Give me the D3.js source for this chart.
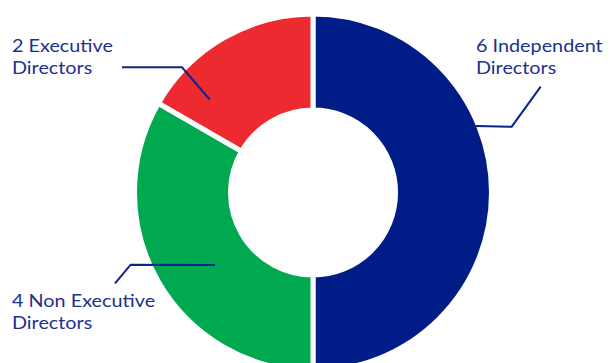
<!DOCTYPE html>
<html>
<head>
<meta charset="utf-8">
<script src="https://cdn.jsdelivr.net/npm/d3@7"></script>
<style>
  html, body { margin: 0; padding: 0; background: #ffffff; }
  svg { display: block; }
  .lbl { font-family: Lato, sans-serif; font-size: 18px; fill: #1b3190; }
</style>
</head>
<body>
<svg id="chart" width="610" height="363"></svg>
<script>
// Board composition
const categories = ["Independent Directors", "Non Executive Directors", "Executive Directors"];
const counts = [6, 4, 2];
const labelLines = [
  ["6 Independent", "Directors"],
  ["4 Non Executive", "Directors"],
  ["2 Executive", "Directors"]
];
const colors = ["#001c87", "#00a94f", "#ec2a30"];

const W = 610, H = 363;
const cx = 313, cy = 192.5;
const gap = 5;
const rOuter = 176 + gap / 2, rInner = 85 - gap / 2;
const lineStep = 22;
const textStretch = 1.1;   // widen the label glyphs a little

const svg = d3.select("#chart");

const pie = d3.pie().sort(null).value(d => d.count);
const arc = d3.arc().innerRadius(rInner).outerRadius(rOuter);

const data = categories.map((c, i) => ({ name: c, count: counts[i], color: colors[i], lines: labelLines[i] }));
const arcs = pie(data);

const g = svg.append("g").attr("transform", `translate(${cx},${cy})`);
g.selectAll("path.slice")
  .data(arcs)
  .join("path")
  .attr("class", "slice")
  .attr("d", arc)
  .attr("fill", d => d.data.color)
  .attr("stroke", "#ffffff")
  .attr("stroke-width", gap)
  .attr("stroke-linejoin", "miter");

// Leader-line layout per slice: anchor (angle in degrees, radius), elbow and end points, text block
const callouts = [
  { anchor: [67.8, 176], elbow: [511.7, 126.7], end: [540.7, 86.7], text: [476, 52] },
  { anchor: [233.5, 122], elbow: [130.7, 264.7], end: [115, 283.3], text: [12, 307] },
  { anchor: [312, 139], elbow: [182, 67.3], end: [122, 67.3], text: [12, 52] }
];

const lineGen = d3.line();
arcs.forEach((a, i) => {
  const c = callouts[i];
  const p = d3.pointRadial(c.anchor[0] * Math.PI / 180, c.anchor[1]);
  const start = [cx + p[0], cy + p[1]];
  svg.append("path")
    .attr("d", lineGen([start, c.elbow, c.end]))
    .attr("fill", "none")
    .attr("stroke", "#0b2487")
    .attr("stroke-width", 2);

  // one text element per line
  a.data.lines.forEach((ln, j) => {
    const t = svg.append("text").attr("class", "lbl")
      .attr("x", c.text[0])
      .attr("y", c.text[1] + j * lineStep)
      .text(ln);
    const w = t.node().getComputedTextLength();
    t.attr("textLength", w * textStretch).attr("lengthAdjust", "spacingAndGlyphs");
  });
});
</script>
</body>
</html>
